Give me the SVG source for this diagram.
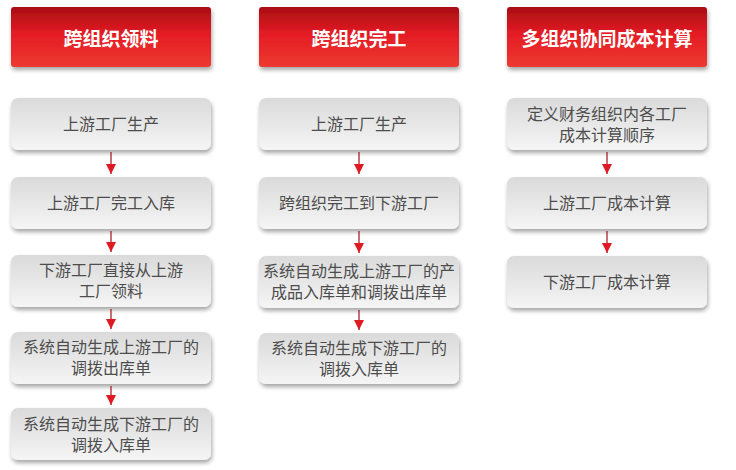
<svg xmlns="http://www.w3.org/2000/svg" width="736" height="470" viewBox="0 0 736 470">
<defs>
<linearGradient id="gh" x1="0" y1="0" x2="0" y2="1">
<stop offset="0" stop-color="#a80e14"/>
<stop offset="0.45" stop-color="#e41c24"/>
<stop offset="1" stop-color="#ec3a30"/>
</linearGradient>
<linearGradient id="gb" x1="0" y1="0" x2="0" y2="1">
<stop offset="0" stop-color="#dadada"/>
<stop offset="1" stop-color="#f5f5f5"/>
</linearGradient>
<filter id="sh" x="-10%" y="-20%" width="120%" height="150%">
<feGaussianBlur in="SourceAlpha" stdDeviation="2"/>
<feOffset dx="1" dy="3" result="b"/>
<feComponentTransfer><feFuncA type="linear" slope="0.35"/></feComponentTransfer>
<feMerge><feMergeNode/><feMergeNode in="SourceGraphic"/></feMerge>
</filter>
<marker id="ar" viewBox="0 0 10 10" refX="10" refY="5" markerWidth="10" markerHeight="10" markerUnits="userSpaceOnUse" orient="auto">
<path d="M0,0 L10,5 L0,10 Z" fill="#e01a22"/>
</marker>
</defs>
<style>
.h{fill:url(#gh);filter:url(#sh)}
.b{fill:url(#gb);filter:url(#sh)}
.ht{font-family:"Liberation Sans","Noto Sans CJK SC",sans-serif;font-size:19px;font-weight:bold;fill:#fff;text-anchor:middle}
.bt{font-family:"Liberation Sans","Noto Sans CJK SC",sans-serif;font-size:16px;fill:#4d4d4d;text-anchor:middle}
.c{stroke:#a0121a;stroke-width:1.2;fill:none;marker-end:url(#ar)}
</style>
<g id="h1"><rect class="h" x="11" y="7" width="200" height="60" rx="3"/><text class="ht" x="111" y="46">跨组织领料</text></g>
<g id="h2"><rect class="h" x="259" y="7" width="200" height="60" rx="3"/><text class="ht" x="359" y="46">跨组织完工</text></g>
<g id="h3"><rect class="h" x="507" y="7" width="200" height="60" rx="3"/><text class="ht" x="607" y="46">多组织协同成本计算</text></g>

<g id="a1"><rect class="b" x="11" y="98" width="200" height="52" rx="7"/><text class="bt" x="111" y="130">上游工厂生产</text></g>
<g id="a2"><rect class="b" x="11" y="177" width="200" height="52" rx="7"/><text class="bt" x="111" y="209">上游工厂完工入库</text></g>
<g id="a3"><rect class="b" x="11" y="255" width="200" height="52" rx="7"/><text class="bt" x="111" y="276">下游工厂直接从上游</text><text class="bt" x="111" y="297">工厂领料</text></g>
<g id="a4"><rect class="b" x="11" y="332" width="200" height="52" rx="7"/><text class="bt" x="111" y="353">系统自动生成上游工厂的</text><text class="bt" x="111" y="374">调拨出库单</text></g>
<g id="a5"><rect class="b" x="11" y="408" width="200" height="52" rx="7"/><text class="bt" x="111" y="430">系统自动生成下游工厂的</text><text class="bt" x="111" y="451">调拨入库单</text></g>

<g id="b1"><rect class="b" x="259" y="98" width="200" height="52" rx="7"/><text class="bt" x="359" y="130">上游工厂生产</text></g>
<g id="b2"><rect class="b" x="259" y="177" width="200" height="52" rx="7"/><text class="bt" x="359" y="209">跨组织完工到下游工厂</text></g>
<g id="b3"><rect class="b" x="259" y="256" width="200" height="52" rx="7"/><text class="bt" x="359" y="277">系统自动生成上游工厂的产</text><text class="bt" x="359" y="298">成品入库单和调拨出库单</text></g>
<g id="b4"><rect class="b" x="259" y="333" width="200" height="51" rx="7"/><text class="bt" x="359" y="354">系统自动生成下游工厂的</text><text class="bt" x="359" y="375">调拨入库单</text></g>

<g id="c1"><rect class="b" x="507" y="98" width="200" height="52" rx="7"/><text class="bt" x="607" y="120">定义财务组织内各工厂</text><text class="bt" x="607" y="141">成本计算顺序</text></g>
<g id="c2"><rect class="b" x="507" y="177" width="200" height="52" rx="7"/><text class="bt" x="607" y="209">上游工厂成本计算</text></g>
<g id="c3"><rect class="b" x="507" y="256" width="200" height="52" rx="7"/><text class="bt" x="607" y="288">下游工厂成本计算</text></g>

<g id="connectors">
<path class="c" d="M111,152 V174"/>
<path class="c" d="M111,231 V252"/>
<path class="c" d="M111,309 V329"/>
<path class="c" d="M111,386 V405"/>
<path class="c" d="M359,152 V174"/>
<path class="c" d="M359,231 V253"/>
<path class="c" d="M359,310 V330"/>
<path class="c" d="M607,152 V174"/>
<path class="c" d="M607,231 V253"/>
</g>
</svg>
